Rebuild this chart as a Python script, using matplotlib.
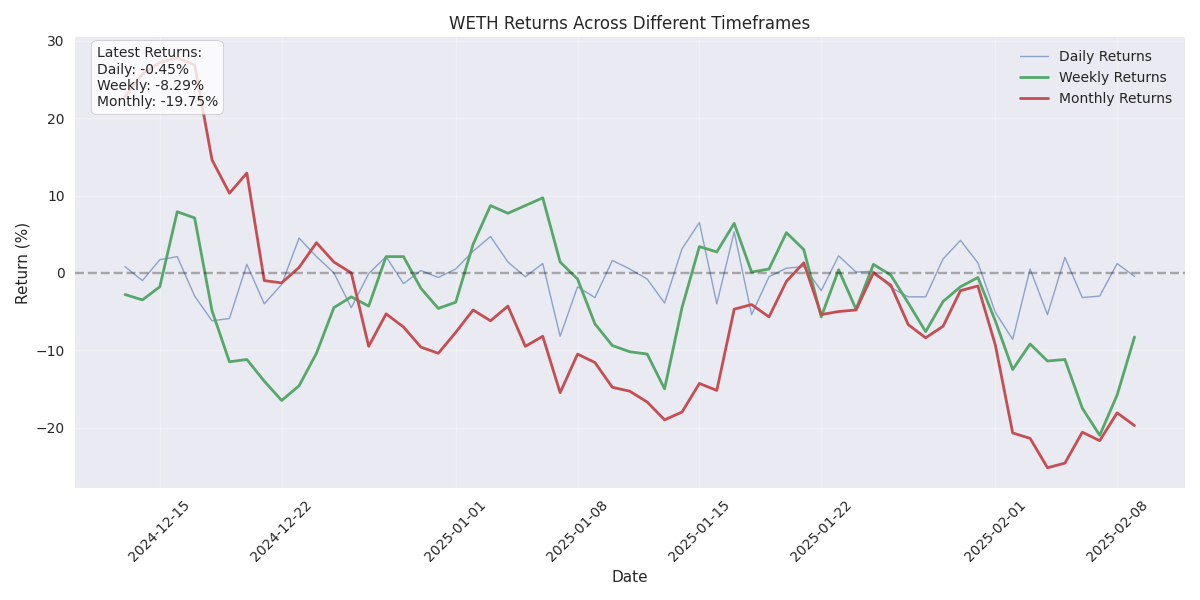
import matplotlib
matplotlib.use("Agg")
import matplotlib.pyplot as plt
import pandas as pd

# daily data points, 2024-12-13 .. 2025-02-09
dates = pd.date_range("2024-12-13", "2025-02-09", freq="D")

daily = [0.8, -1.0, 1.7, 2.1, -3.0, -6.2, -5.9, 1.1, -4.0, -1.5,
         4.5, 2.1, 0.0, -4.5, -0.1, 2.1, -1.4, 0.3, -0.6, 0.5,
         2.8, 4.7, 1.4, -0.5, 1.2, -8.2, -1.8, -3.2, 1.6, 0.5,
         -0.8, -3.9, 3.1, 6.5, -4.0, 5.3, -5.4, -0.5, 0.6, 0.8,
         -2.3, 2.2, 0.1, 0.2, -1.9, -3.1, -3.1, 1.8, 4.2, 1.3,
         -5.1, -8.6, 0.5, -5.4, 2.0, -3.2, -3.0, 1.2, -0.45]

weekly = [-2.8, -3.5, -1.8, 7.9, 7.1, -4.9, -11.5, -11.2, -14.0, -16.5,
          -14.6, -10.4, -4.5, -3.1, -4.3, 2.1, 2.1, -2.0, -4.6, -3.8,
          3.7, 8.7, 7.7, 8.7, 9.7, 1.4, -0.8, -6.6, -9.4, -10.2,
          -10.5, -15.0, -4.5, 3.4, 2.7, 6.4, 0.1, 0.5, 5.2, 3.0,
          -5.7, 0.4, -4.7, 1.1, -0.3, -3.9, -7.6, -3.7, -1.8, -0.6,
          -6.2, -12.5, -9.2, -11.4, -11.2, -17.5, -21.0, -15.8, -8.29]

monthly = [22.8, 25.7, 27.2, 27.8, 26.9, 14.6, 10.3, 12.9, -1.0, -1.3,
           0.7, 3.9, 1.4, 0.0, -9.5, -5.3, -7.0, -9.6, -10.4, -7.7,
           -4.8, -6.2, -4.3, -9.5, -8.2, -15.5, -10.5, -11.6, -14.8, -15.3,
           -16.7, -19.0, -18.0, -14.3, -15.2, -4.7, -4.1, -5.7, -1.1, 1.3,
           -5.4, -5.0, -4.8, 0.0, -1.6, -6.7, -8.4, -6.9, -2.3, -1.7,
           -9.3, -20.7, -21.4, -25.2, -24.6, -20.6, -21.7, -18.1, -19.75]

plt.style.use("seaborn-v0_8")
plt.rcParams["font.family"] = ["DejaVu Sans"]
fig, ax = plt.subplots(figsize=(12, 6), dpi=100)

ax.plot(dates, daily, label="Daily Returns", alpha=0.6, linewidth=1)
ax.plot(dates, weekly, label="Weekly Returns", linewidth=2)
ax.plot(dates, monthly, label="Monthly Returns", linewidth=2)
ax.axhline(y=0, color="black", linestyle="--", alpha=0.3)

ax.set_title("WETH Returns Across Different Timeframes")
ax.set_xlabel("Date")
ax.set_ylabel("Return (%)")
ax.legend()
ax.grid(True, alpha=0.3)
plt.xticks(rotation=45)

stats = (f"Latest Returns:\nDaily: {daily[-1]:.2f}%\n"
         f"Weekly: {weekly[-1]:.2f}%\nMonthly: {monthly[-1]:.2f}%")
ax.text(0.02, 0.98, stats, transform=ax.transAxes, verticalalignment="top",
        bbox=dict(boxstyle="round,pad=0.4", facecolor="white",
                  edgecolor="0.6", alpha=0.8))

plt.tight_layout()
plt.savefig("out.png")
